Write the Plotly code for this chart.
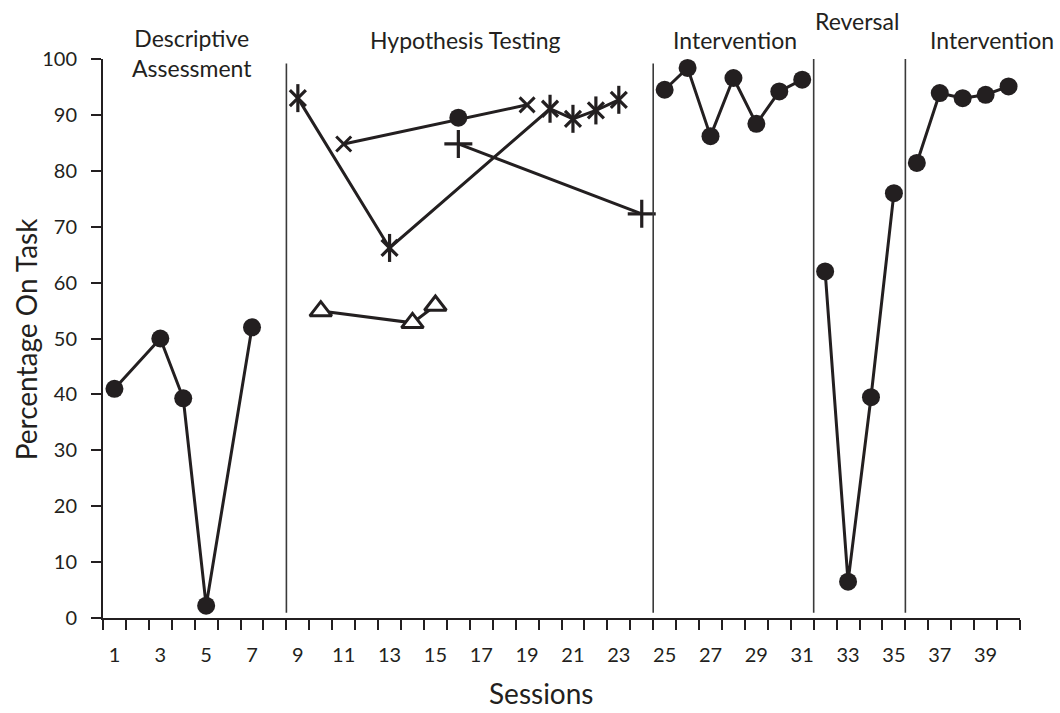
import plotly.graph_objects as go

# Session numbers and percentage of intervals on task, by condition
baseline_sessions = [1, 3, 4, 5, 7]
baseline_pct = [41, 50, 39.3, 2.2, 52]

asterisk_sessions = [9, 13, 20, 21, 22, 23]
asterisk_pct = [93, 66.2, 91.1, 89.3, 90.8, 92.7]

cross_sessions = [11, 19]
cross_pct = [84.8, 91.8]

dot_sessions = [16]
dot_pct = [89.5]

plus_sessions = [16, 24]
plus_pct = [84.8, 72.3]

triangle_sessions = [10, 14, 15]
triangle_pct = [54.9, 52.8, 55.9]

intervention1_sessions = [25, 26, 27, 28, 29, 30, 31]
intervention1_pct = [94.5, 98.4, 86.2, 96.6, 88.4, 94.2, 96.3]

reversal_sessions = [32, 33, 34, 35]
reversal_pct = [62, 6.5, 39.5, 76]

intervention2_sessions = [36, 37, 38, 39, 40]
intervention2_pct = [81.4, 93.9, 93.0, 93.6, 95.1]

phase_names = ["Descriptive<br>Assessment", "Hypothesis Testing", "Intervention",
               "Reversal", "Intervention"]
phase_breaks = [8.5, 24.5, 31.5, 35.5]

x_tick_values = list(range(1, 40, 2))
y_tick_values = list(range(0, 101, 10))

INK = "#231f20"
FONT = "Lato"

fig = go.Figure()


def add_line(xs, ys, symbol, size, fill=INK, outline=INK, outline_w=0, mode="lines+markers"):
    fig.add_trace(go.Scatter(
        x=xs, y=ys, mode=mode, cliponaxis=False, showlegend=False,
        line=dict(color=INK, width=3),
        marker=dict(symbol=symbol, size=size, color=fill,
                    line=dict(color=outline, width=outline_w)),
    ))


# filled-circle phases
for xs, ys in [(baseline_sessions, baseline_pct),
               (intervention1_sessions, intervention1_pct),
               (reversal_sessions, reversal_pct),
               (intervention2_sessions, intervention2_pct)]:
    add_line(xs, ys, "circle", 18)

# hypothesis-testing conditions
add_line(asterisk_sessions, asterisk_pct, "x-thin-open", 16, outline_w=3.2)
add_line(asterisk_sessions, asterisk_pct, "line-ns-open", 20, outline_w=3.2, mode="markers")
add_line(cross_sessions, cross_pct, "x-thin-open", 15, outline_w=3)
add_line(dot_sessions, dot_pct, "circle", 18, mode="markers")
add_line(plus_sessions, plus_pct, "cross-thin-open", 20, outline_w=3.2)
add_line(triangle_sessions, triangle_pct, "triangle-up", 19, fill="white", outline_w=3)

# phase change lines
shapes = []
for i, xb in enumerate(phase_breaks):
    top = 99.2 if i < 2 else 102.0
    shapes.append(dict(type="line", xref="x", yref="y", x0=xb, x1=xb, y0=0.95, y1=top,
                       line=dict(color="#3a3a3a", width=1.6)))

# phase labels
label_pos = [(4.39, 53), (16.33, 40), (28.06, 40), (33.4, 21), (39.3, 40)]
annotations = []
for name, (lx, py) in zip(phase_names, label_pos):
    annotations.append(dict(text=name, x=lx, xref="x", y=(618.3 - py) / 559, yref="paper",
                            showarrow=False, xanchor="center", yanchor="middle",
                            font=dict(family=FONT, size=23, color=INK)))

annotations.append(dict(text="Sessions", x=(541 - 102.5) / 918, xref="paper",
                        y=(618.3 - 693) / 559, yref="paper", showarrow=False,
                        xanchor="center", yanchor="middle",
                        font=dict(family=FONT, size=28, color=INK)))
annotations.append(dict(text="Percentage On Task", x=(25 - 102.5) / 918, xref="paper",
                        y=(618.3 - 339) / 559, yref="paper", showarrow=False, textangle=-90,
                        xanchor="center", yanchor="middle",
                        font=dict(family=FONT, size=28, color=INK)))

fig.update_layout(
    width=1060, height=713,
    margin=dict(l=102.5, r=39.5, t=59.3, b=94.7),
    paper_bgcolor="white", plot_bgcolor="white",
    font=dict(family=FONT, color=INK),
    shapes=shapes, annotations=annotations,
    xaxis=dict(
        range=[0.5, 40.5], tickmode="array", tickvals=x_tick_values,
        ticktext=[str(v) for v in x_tick_values], ticks="",
        showline=True, linecolor=INK, linewidth=2, showgrid=False, zeroline=False,
        tickfont=dict(family=FONT, size=20, color=INK), ticklabelstandoff=18,
        minor=dict(tickmode="array", tickvals=[0.5 + i for i in range(41)],
                   ticks="outside", ticklen=10, tickwidth=1.6, tickcolor=INK, showgrid=False),
    ),
    yaxis=dict(
        range=[0, 100], tickmode="array", tickvals=y_tick_values,
        ticks="outside", ticklen=10, tickwidth=1.6, tickcolor=INK,
        showline=True, linecolor=INK, linewidth=2, showgrid=False, zeroline=False,
        tickfont=dict(family=FONT, size=20, color=INK), ticklabelstandoff=10,
    ),
)

fig.write_html("out.html")
